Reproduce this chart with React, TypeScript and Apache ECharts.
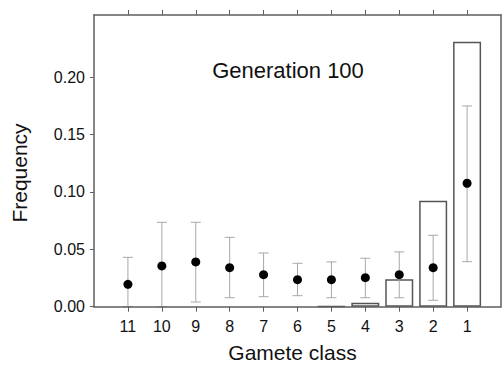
import React, { useEffect, useRef } from "react";
import * as echarts from "echarts";

const classes = ["11", "10", "9", "8", "7", "6", "5", "4", "3", "2", "1"];
const barValues = [0, 0, 0, 0, 0, 0, 0.0005, 0.0035, 0.0239, 0.0923, 0.2308];
const means = [0.0195, 0.0355, 0.039, 0.034, 0.0279, 0.0235, 0.0235, 0.0253, 0.0279, 0.034, 0.1075];
const upper = [0.043, 0.0735, 0.0735, 0.0604, 0.0468, 0.0378, 0.039, 0.0422, 0.0477, 0.0622, 0.1748];
const lower = [0, 0, 0.0041, 0.0078, 0.0087, 0.0096, 0.0078, 0.0078, 0.0078, 0.0056, 0.0392];
const yTicks = [0, 0.05, 0.1, 0.15, 0.2];

const FONT = "Liberation Sans, Arial, sans-serif";
const AXIS = "#5e5e5e";

export default function App() {
  const ref = useRef<HTMLDivElement>(null);
  useEffect(() => {
    if (!ref.current) return;
    const chart = echarts.init(ref.current, null, { renderer: "svg" });
    const positions = classes.map((_, i) => i + 1);
    const xLabel = (v: number) => {
      const i = Math.round(v) - 1;
      return i >= 0 && i < classes.length ? classes[i] : "";
    };
    const option = {
      animation: false,
      backgroundColor: "#fff",
      grid: { left: 94, right: 2, top: 15, bottom: 58.3, containLabel: false },
      xAxis: [
        {
          type: "value",
          min: 0,
          max: 12,
          position: "bottom",
          splitLine: { show: false },
          axisLine: { show: true, onZero: false, lineStyle: { color: AXIS, width: 1.5 } },
          axisTick: { show: true, length: 5, customValues: positions, lineStyle: { color: AXIS, width: 1 } },
          axisLabel: {
            customValues: positions,
            formatter: xLabel,
            margin: 12,
            fontFamily: FONT,
            fontSize: 16,
            color: "#111",
          },
          z: 5,
        },
        {
          type: "value",
          min: 0,
          max: 12,
          position: "top",
          splitLine: { show: false },
          axisLine: { show: true, onZero: false, lineStyle: { color: AXIS, width: 1.5 } },
          axisTick: { show: true, length: 5, customValues: positions, lineStyle: { color: AXIS, width: 1 } },
          axisLabel: { show: false },
        },
      ],
      yAxis: [
        {
          type: "value",
          min: 0,
          max: 0.254,
          position: "left",
          splitLine: { show: false },
          axisLine: { show: true, onZero: false, lineStyle: { color: AXIS, width: 1.5 } },
          axisTick: { show: true, length: 4, customValues: yTicks, lineStyle: { color: AXIS, width: 1 } },
          axisLabel: {
            customValues: yTicks,
            formatter: (v: number) => v.toFixed(2),
            margin: 9,
            fontFamily: FONT,
            fontSize: 16,
            color: "#111",
          },
        },
        {
          type: "value",
          min: 0,
          max: 0.254,
          position: "right",
          splitLine: { show: false },
          axisLine: { show: true, onZero: false, lineStyle: { color: AXIS, width: 1.5 } },
          axisTick: { show: false },
          axisLabel: { show: false },
        },
      ],
      series: [
        {
          type: "bar",
          xAxisIndex: 0,
          yAxisIndex: 0,
          barWidth: 28,
          data: positions.map((p, i) => ({
            value: [p, barValues[i]],
            itemStyle: barValues[i] === 0 ? { borderWidth: 0, color: "transparent" } : undefined,
          })),
          itemStyle: { color: "#fff", borderColor: "#555", borderWidth: 1.5 },
          z: 2,
        },
        {
          type: "custom",
          xAxisIndex: 0,
          yAxisIndex: 0,
          data: positions.map((p, i) => [p, lower[i], upper[i]]),
          encode: { x: 0, y: [1, 2] },
          z: 3,
          renderItem: (params: any, api: any) => {
            const x = api.value(0);
            const lo = api.coord([x, api.value(1)]);
            const hi = api.coord([x, api.value(2)]);
            const half = 5;
            const style = { stroke: "#a8a8a8", lineWidth: 1 };
            return {
              type: "group",
              children: [
                { type: "line", shape: { x1: lo[0], y1: lo[1], x2: hi[0], y2: hi[1] }, style },
                { type: "line", shape: { x1: hi[0] - half, y1: hi[1], x2: hi[0] + half, y2: hi[1] }, style },
                { type: "line", shape: { x1: lo[0] - half, y1: lo[1], x2: lo[0] + half, y2: lo[1] }, style },
              ],
            };
          },
        },
        {
          type: "scatter",
          xAxisIndex: 0,
          yAxisIndex: 0,
          symbol: "circle",
          symbolSize: 9,
          data: positions.map((p, i) => [p, means[i]]),
          itemStyle: { color: "#000", opacity: 1 },
          z: 4,
        },
      ],
      graphic: [
        {
          type: "text",
          x: 288,
          y: 70,
          style: {
            text: "Generation 100",
            font: `22px ${FONT}`,
            fill: "#111",
            textAlign: "center",
            textVerticalAlign: "middle",
          },
        },
        {
          type: "text",
          x: 292.5,
          y: 352,
          style: {
            text: "Gamete class",
            font: `21px ${FONT}`,
            fill: "#111",
            textAlign: "center",
            textVerticalAlign: "middle",
          },
        },
        {
          type: "text",
          x: 19,
          y: 173,
          rotation: Math.PI / 2,
          style: {
            text: "Frequency",
            font: `21px ${FONT}`,
            fill: "#111",
            textAlign: "center",
            textVerticalAlign: "middle",
          },
        },
      ],
    };
    chart.setOption(option as any);
    return () => chart.dispose();
  }, []);
  return (
    <div
      ref={ref}
      style={{ position: "fixed", left: 0, top: 0, width: 503, height: 365 }}
    />
  );
}
